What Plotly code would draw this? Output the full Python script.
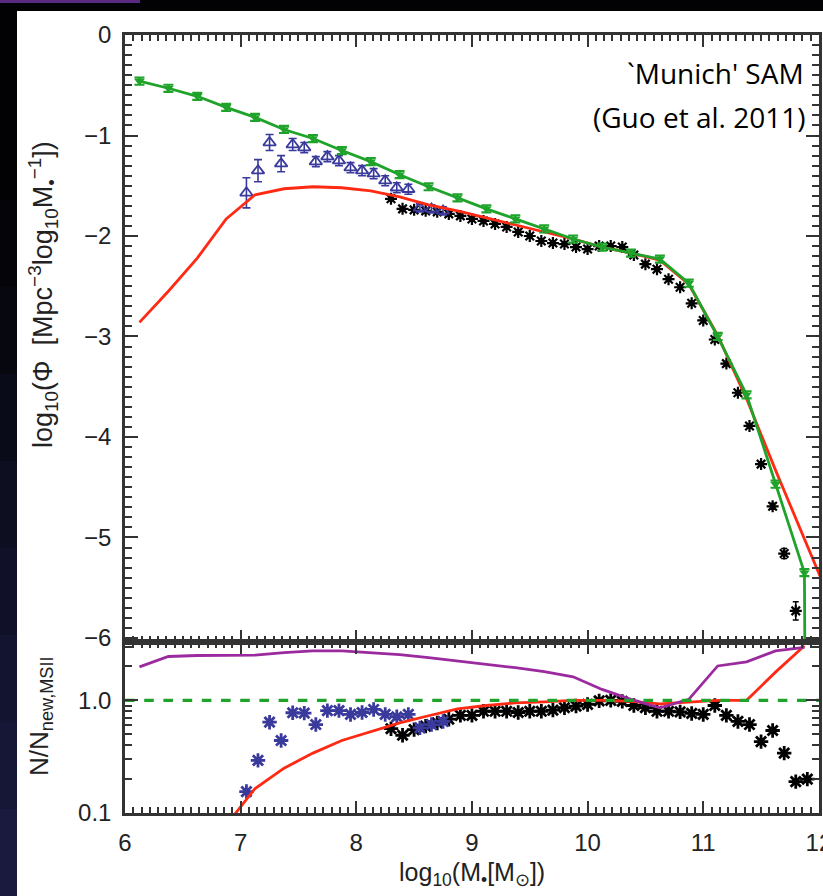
import plotly.graph_objects as go

W, H = 823, 896

# ---------------- data ----------------
# model grid (0.25 dex bins)
model_x = [6.125, 6.375, 6.625, 6.875, 7.125, 7.375, 7.625, 7.875, 8.125, 8.375,
           8.625, 8.875, 9.125, 9.375, 9.625, 9.875, 10.125, 10.375, 10.625, 10.875,
           11.125, 11.375, 11.625, 11.875, 12.125]
green_phi = [-0.46, -0.53, -0.61, -0.72, -0.82, -0.94, -1.03, -1.15, -1.26, -1.39,
             -1.51, -1.62, -1.73, -1.83, -1.93, -2.03, -2.11, -2.17, -2.23, -2.47,
             -3.00, -3.58, -4.47, -5.35, -60.0]
green_err = [0.035] * 24 + [0.0]
red_phi = [-2.86, -2.55, -2.22, -1.83, -1.59, -1.53, -1.51, -1.52, -1.55, -1.61,
           -1.69, -1.75, -1.82, -1.89, -1.96, -2.03, -2.11, -2.17, -2.24, -2.48,
           -2.99, -3.62, -4.33, -5.02, -5.70]

# blue (MS-II based) points
blue_x = [7.05, 7.15, 7.25, 7.35, 7.45, 7.55, 7.65, 7.75, 7.85, 7.95,
          8.05, 8.15, 8.25, 8.35, 8.45, 8.55, 8.65, 8.75]
blue_phi = [-1.57, -1.35, -1.07, -1.28, -1.09, -1.12, -1.26, -1.21, -1.25, -1.32,
            -1.35, -1.38, -1.45, -1.52, -1.535, -1.72, -1.73, -1.75]
blue_err = [0.15, 0.11, 0.08, 0.08, 0.06, 0.05, 0.05, 0.05, 0.05, 0.05,
            0.05, 0.05, 0.05, 0.05, 0.05, 0.04, 0.04, 0.04]
blue_ratio = [0.155, 0.293, 0.64, 0.44, 0.776, 0.77, 0.61, 0.81, 0.81, 0.75,
              0.78, 0.83, 0.75, 0.715, 0.75, 0.57, 0.61, 0.65]

# black (MS based) points
black_x = [8.3, 8.4, 8.5, 8.6, 8.7, 8.8, 8.9, 9.0, 9.1, 9.2, 9.3, 9.4, 9.5,
           9.6, 9.7, 9.8, 9.9, 10.0, 10.1, 10.2, 10.3, 10.4, 10.5, 10.6, 10.7,
           10.8, 10.9, 11.0, 11.1, 11.2, 11.3, 11.4, 11.5, 11.6, 11.7, 11.8, 11.9]
black_phi = [-1.63, -1.73, -1.74, -1.75, -1.76, -1.78, -1.80, -1.83, -1.85, -1.88,
             -1.91, -1.96, -2.00, -2.05, -2.07, -2.08, -2.11, -2.13, -2.10, -2.10,
             -2.11, -2.19, -2.28, -2.33, -2.43, -2.51, -2.67, -2.84, -3.03, -3.27,
             -3.56, -3.89, -4.27, -4.69, -5.16, -5.73, -6.30]
black_err = [0.02] * 33 + [0.03, 0.05, 0.09, 0.12]
black_ratio = [0.56, 0.49, 0.55, 0.59, 0.63, 0.68, 0.735, 0.735, 0.80, 0.80,
               0.80, 0.78, 0.80, 0.80, 0.82, 0.86, 0.89, 0.92, 0.99, 1.0,
               0.98, 0.90, 0.86, 0.80, 0.80, 0.79, 0.765, 0.75, 0.90, 0.735,
               0.65, 0.61, 0.43, 0.54, 0.34, 0.19, 0.20]

# ratio-panel model curves (0.25 dex bins)
ratio_x = [6.125, 6.375, 6.625, 6.875, 7.125, 7.375, 7.625, 7.875, 8.125, 8.375,
           8.625, 8.875, 9.125, 9.375, 9.625, 9.875, 10.125, 10.375, 10.625, 10.875,
           11.125, 11.375, 11.625, 11.875]
purple_ratio = [1.98, 2.45, 2.50, 2.52, 2.52, 2.65, 2.75, 2.75, 2.65, 2.55,
                2.40, 2.25, 2.10, 1.95, 1.80, 1.62, 1.25, 1.02, 0.86, 1.02,
                2.02, 2.20, 2.75, 2.95]
red_ratio = [0.004, 0.01, 0.025, 0.078, 0.165, 0.25, 0.34, 0.44, 0.53, 0.63,
             0.73, 0.84, 0.90, 0.95, 0.97, 1.0, 1.0, 0.98, 0.93, 0.96,
             1.0, 1.0, 1.78, 3.05]
unity_x = [6.0, 12.0]
unity_y = [1.0, 1.0]

x_ticks = [6, 7, 8, 9, 10, 11, 12]
y_ticks = [-6, -5, -4, -3, -2, -1, 0]
r_ticks = [0.1, 1.0]
r_ticktext = ["0.1", "1.0"]
r_minor = [0.2, 0.3, 0.4, 0.5, 0.6, 0.7, 0.8, 0.9, 2.0, 3.0]

# ---------------- styling ----------------
GREEN = "#1fa32a"
RED = "#ff2a14"
BLUE = "#3a3a9c"
PURPLE = "#9b2a9e"
AX = "#333333"
TXT = "#222222"
FONT = "Liberation Sans, Arial, sans-serif"

def px(x):
    return x / W

def py(y):
    return 1 - y / H

fig = go.Figure()

# main panel
fig.add_trace(go.Scatter(
    x=black_x, y=black_phi, mode="markers",
    marker=dict(symbol="asterisk-open", size=10, color="black",
                line=dict(color="black", width=2.2)),
    error_y=dict(type="data", array=black_err, color="black", thickness=1.5, width=3),
    xaxis="x", yaxis="y", showlegend=False))
fig.add_trace(go.Scatter(
    x=blue_x, y=blue_phi, mode="markers",
    marker=dict(symbol="triangle-up-open", size=11, color=BLUE,
                line=dict(color=BLUE, width=1.8)),
    error_y=dict(type="data", array=blue_err, color=BLUE, thickness=1.6, width=4),
    xaxis="x", yaxis="y", showlegend=False))
fig.add_trace(go.Scatter(
    x=model_x, y=red_phi, mode="lines",
    line=dict(color=RED, width=2.8),
    xaxis="x", yaxis="y", showlegend=False))
fig.add_trace(go.Scatter(
    x=model_x, y=green_phi, mode="lines+markers",
    line=dict(color=GREEN, width=2.8),
    marker=dict(symbol="triangle-down", size=9, color=GREEN),
    error_y=dict(type="data", array=green_err, color=GREEN, thickness=2.2, width=5),
    xaxis="x", yaxis="y", showlegend=False))

# ratio panel
fig.add_trace(go.Scatter(
    x=black_x, y=black_ratio, mode="markers",
    marker=dict(symbol="asterisk-open", size=12, color="black",
                line=dict(color="black", width=2.8)),
    xaxis="x2", yaxis="y2", showlegend=False))
fig.add_trace(go.Scatter(
    x=blue_x, y=blue_ratio, mode="markers",
    marker=dict(symbol="asterisk-open", size=12, color=BLUE,
                line=dict(color=BLUE, width=2.8)),
    xaxis="x2", yaxis="y2", showlegend=False))
fig.add_trace(go.Scatter(
    x=ratio_x, y=red_ratio, mode="lines",
    line=dict(color=RED, width=2.8),
    xaxis="x2", yaxis="y2", showlegend=False))
fig.add_trace(go.Scatter(
    x=ratio_x, y=purple_ratio, mode="lines",
    line=dict(color=PURPLE, width=2.8),
    xaxis="x2", yaxis="y2", showlegend=False))
fig.add_trace(go.Scatter(
    x=unity_x, y=unity_y, mode="lines",
    line=dict(color=GREEN, width=3.2, dash="dash"),
    xaxis="x2", yaxis="y2", showlegend=False))

xdom = [px(125), px(819)]
common_x = dict(range=[6, 12.001], tickvals=x_ticks, ticks="inside", ticklen=12,
                tickwidth=2, tickcolor=AX, showline=True, linewidth=2.5,
                linecolor=AX, mirror="allticks", showgrid=False, zeroline=False,
                automargin=False,
                minor=dict(ticks="inside", dtick=1 / 14, tick0=6, ticklen=6,
                           tickwidth=1.5, tickcolor=AX),
                domain=xdom)

fig.update_layout(
    width=W, height=H, autosize=False,
    margin=dict(l=0, r=0, t=0, b=0, pad=0, autoexpand=False),
    showlegend=False,
    paper_bgcolor="#020204",
    plot_bgcolor="white",
    font=dict(family=FONT, color=TXT),
    xaxis=dict(**common_x, anchor="y", showticklabels=False),
    yaxis=dict(domain=[py(642), py(35)], range=[-6.04, 0], tickvals=y_ticks,
               ticks="inside", ticklen=13, tickwidth=2, tickcolor=AX,
               showline=True, linewidth=2.5, linecolor=AX, mirror="allticks",
               showgrid=False, zeroline=False, anchor="x", automargin=False,
               tickfont=dict(size=24, color=TXT, family=FONT),
               ticklabelstandoff=6,
               minor=dict(ticks="inside", dtick=0.1, ticklen=7, tickwidth=1.5,
                          tickcolor=AX)),
    xaxis2=dict(**common_x, anchor="y2", showticklabels=True,
                tickfont=dict(size=24, color=TXT, family=FONT),
                ticklabelstandoff=6, ticklabeloverflow="allow"),
    yaxis2=dict(domain=[py(813), py(642)], type="log", range=[-1, 0.518],
                tickvals=r_ticks, ticktext=r_ticktext,
                ticks="inside", ticklen=13, tickwidth=2, tickcolor=AX,
                showline=True, linewidth=2.5, linecolor=AX, mirror="allticks",
                showgrid=False, zeroline=False, anchor="x2", automargin=False,
                tickfont=dict(size=24, color=TXT, family=FONT),
                ticklabelstandoff=6,
                minor=dict(ticks="inside", tickvals=r_minor, ticklen=7,
                           tickwidth=1.5, tickcolor=AX)),
)

shapes = [
    # white slide panel
    dict(type="rect", xref="paper", yref="paper", x0=px(17), x1=1.0,
         y0=0.0, y1=py(11), fillcolor="white", line=dict(width=0), layer="below"),
    # purple streak at top-left
    dict(type="rect", xref="paper", yref="paper", x0=0, x1=px(140),
         y0=py(3), y1=1.0, fillcolor="#5a2a80", line=dict(width=0), layer="below"),
]
# dark left strip fading from black (top) to navy (bottom)
strip_cols = ["#040409", "#07070f", "#0a0b18", "#0d0e20", "#101128",
              "#131430", "#161737", "#191a3e"]
band = (H - 200) / len(strip_cols)
for i, c in enumerate(strip_cols):
    shapes.append(dict(type="rect", xref="paper", yref="paper", x0=0, x1=px(17),
                       y0=py(200 + (i + 1) * band), y1=py(200 + i * band),
                       fillcolor=c, line=dict(width=0), layer="below"))
fig.update_layout(shapes=shapes)

ann = [
    dict(text="log<sub>10</sub>(\u03a6  [Mpc<sup>\u22123</sup>log<sub>10</sub>M<sub>\u2022</sub><sup>\u22121</sup>])",
         x=px(43), y=py(295), textangle=-90, font=dict(size=27, color=TXT)),
    dict(text="N/N<sub>new,MSII</sub>",
         x=px(40), y=py(716), textangle=-90, font=dict(size=26, color=TXT)),
    dict(text="log<sub>10</sub>(M<sub>\u2022</sub>[M<sub>\u2299</sub>])",
         x=px(472), y=py(874), font=dict(size=25, color=TXT)),
    dict(text="`Munich' SAM", x=px(806), y=py(73), xanchor="right",
         font=dict(size=28, color="black", family="Open Sans, sans-serif")),
    dict(text="(Guo et al. 2011)", x=px(807), y=py(117), xanchor="right",
         font=dict(size=28, color="black", family="Open Sans, sans-serif")),
]
for a in ann:
    a.update(xref="paper", yref="paper", showarrow=False)
    a.setdefault("xanchor", "center")
    a.setdefault("yanchor", "middle")
fig.update_layout(annotations=ann)

fig.write_html("out.html")
